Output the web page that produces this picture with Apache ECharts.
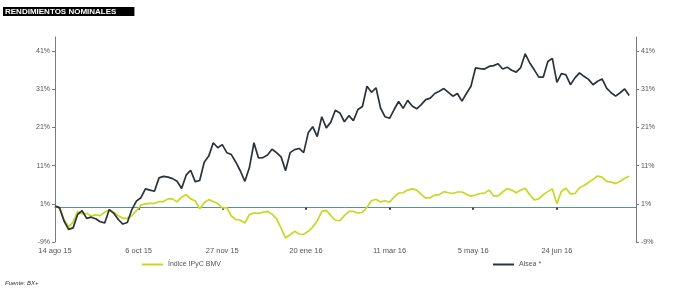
<!DOCTYPE html>
<html>
<head>
<meta charset="utf-8">
<script src="https://cdn.jsdelivr.net/npm/echarts@6/dist/echarts.min.js"></script>
<style>
  html, body { margin: 0; padding: 0; background: #fff; }
  #chart { width: 693px; height: 298px; }
</style>
</head>
<body>
<div id="chart"></div>
<script>
// trading-day index of each tick label (every 37 sessions)
const tickDays = [0, 37, 74, 111, 148, 185, 222]
const tickLabels = ['14 ago 15', '6 oct 15', '27 nov 15', '20 ene 16', '11 mar 16', '5 may 16', '24 jun 16']
const yTicks = [-9, 1, 11, 21, 31, 41]
const sampleStep = 2 // one value read every 2 sessions

// cumulative nominal return, %
const ipyc = [
  0.4, -0.2, -3.1, -5.1, -3.8, -1.0, -1.6, -1.5, -2.2, -1.9,
  -2.1, -1.2, -0.6, -1.2, -2.1, -2.8, -2.8, -2.1, -0.8, 0.7,
  1.0, 1.1, 1.1, 1.6, 1.6, 2.3, 2.3, 1.5, 2.8, 3.4,
  2.3, 1.8, -0.3, 1.3, 2.1, 1.6, 1.1, -0.1, 0.0, -2.2,
  -3.1, -3.3, -4.0, -1.8, -1.4, -1.5, -1.2, -1.0, -1.7, -2.9,
  -5.4, -7.9, -7.1, -6.2, -6.9, -7.0, -6.2, -5.1, -3.5, -1.0,
  -0.7, -2.1, -3.3, -3.4, -2.1, -1.0, -1.0, -1.4, -1.2, 0.1,
  1.8, 2.2, 1.5, 1.8, 1.4, 2.8, 3.8, 3.9, 4.6, 4.9,
  4.6, 3.5, 2.5, 2.6, 3.3, 3.4, 4.2, 3.9, 3.7, 4.1,
  4.1, 3.5, 3.0, 3.3, 3.7, 3.8, 4.6, 3.1, 3.1, 4.1,
  5.0, 4.6, 3.9, 4.6, 5.1, 3.4, 2.0, 2.3, 3.4, 4.2,
  4.9, 1.0, 4.3, 5.1, 3.6, 3.7, 5.2, 5.8, 6.6, 7.4,
  8.3, 8.0, 6.9, 6.7, 6.3, 6.9, 7.7, 8.2
]
const alsea = [
  0.4, 0.0, -3.5, -5.7, -5.3, -1.8, -0.8, -2.8, -2.5, -2.9,
  -3.7, -4.0, -0.5, -1.5, -3.1, -4.3, -3.9, -0.5, 1.7, 2.6,
  4.9, 4.6, 4.3, 7.8, 8.2, 8.0, 7.6, 6.9, 5.0, 8.5,
  9.8, 6.8, 7.1, 11.9, 13.5, 17.0, 15.7, 16.5, 14.4, 13.9,
  11.9, 9.6, 6.9, 10.5, 17.0, 13.0, 13.1, 13.8, 15.3, 14.4,
  13.3, 9.7, 14.4, 15.2, 15.5, 14.4, 19.6, 21.2, 18.6, 23.8,
  20.9, 22.4, 25.5, 24.8, 22.5, 24.1, 22.8, 25.7, 26.5, 31.8,
  30.2, 31.4, 26.1, 23.8, 23.4, 25.7, 27.8, 26.0, 28.1, 26.6,
  25.9, 27.0, 28.3, 28.7, 29.9, 30.5, 31.2, 30.2, 29.2, 29.9,
  27.9, 29.9, 31.8, 36.6, 36.4, 36.3, 37.0, 37.2, 37.7, 36.3,
  36.8, 36.0, 35.5, 36.7, 40.3, 37.9, 36.1, 34.2, 34.2, 38.3,
  39.1, 32.8, 35.1, 34.8, 32.2, 34.0, 35.3, 34.4, 33.6, 32.2,
  33.1, 33.7, 31.3, 30.1, 29.2, 30.1, 31.1, 29.4
]

const FONT = '"Liberation Sans", Arial, sans-serif'
const toPairs = arr => arr.map((v, i) => [i * sampleStep, v])

function yAxisCfg(position) {
  return {
    type: 'value',
    position,
    min: -9,
    max: 44.7,
    axisLine: { show: true, lineStyle: { color: '#7a7a7a', width: 1 } },
    axisTick: { show: true, customValues: yTicks, length: 3, lineStyle: { color: '#7a7a7a' } },
    axisLabel: {
      customValues: yTicks,
      formatter: v => Math.round(v) + '%',
      color: '#555',
      fontFamily: FONT,
      fontSize: 7,
      margin: 5
    },
    splitLine: { show: false }
  }
}

const chart = echarts.init(document.getElementById('chart'), null, { renderer: 'canvas' })
chart.setOption({
  animation: false,
  backgroundColor: '#fff',
  title: {
    text: 'RENDIMIENTOS NOMINALES',
    left: 3,
    top: 7,
    backgroundColor: '#000',
    padding: [1, 18, 0, 2],
    textStyle: { color: '#fff', fontFamily: FONT, fontSize: 8, fontWeight: 'bold', lineHeight: 8 }
  },
  graphic: [
    { type: 'text', left: 5, top: 280, style: { text: 'Fuente: BX+', fill: '#333', font: 'italic 6px "Liberation Sans", Arial, sans-serif' } }
  ],
  legend: [
    { data: ['Índice IPyC BMV'], left: 137, top: 256, icon: 'rect', itemWidth: 21, itemHeight: 2, itemGap: 2,
      textStyle: { color: '#555', fontFamily: FONT, fontSize: 7 } },
    { data: ['Alsea *'], left: 488, top: 256, icon: 'rect', itemWidth: 21, itemHeight: 2, itemGap: 2,
      textStyle: { color: '#555', fontFamily: FONT, fontSize: 7 } }
  ],
  grid: { left: 55, right: 57, top: 37, bottom: 56 },
  xAxis: {
    type: 'value',
    min: 0,
    max: 257,
    axisLine: { show: true, onZero: true, lineStyle: { color: '#5a8f99', width: 1 } },
    axisTick: { show: true, customValues: tickDays.slice(1), length: 2, lineStyle: { color: '#000', width: 1.5 } },
    axisLabel: {
      customValues: tickDays,
      formatter: v => tickLabels[tickDays.indexOf(Math.round(v))] || '',
      color: '#555',
      fontFamily: FONT,
      fontSize: 7.5,
      margin: 5,
      showMinLabel: true
    },
    splitLine: { show: false }
  },
  yAxis: [yAxisCfg('left'), yAxisCfg('right')],
  series: [
    {
      name: 'Índice IPyC BMV',
      type: 'line',
      data: toPairs(ipyc),
      symbol: 'none',
      lineStyle: { color: '#c6d820', width: 1.7 },
      itemStyle: { color: '#c6d820' },
      z: 2
    },
    {
      name: 'Alsea *',
      type: 'line',
      data: toPairs(alsea),
      symbol: 'none',
      lineStyle: { color: '#2c323a', width: 1.7 },
      itemStyle: { color: '#2c323a' },
      z: 3
    }
  ]
})
</script>
</body>
</html>
